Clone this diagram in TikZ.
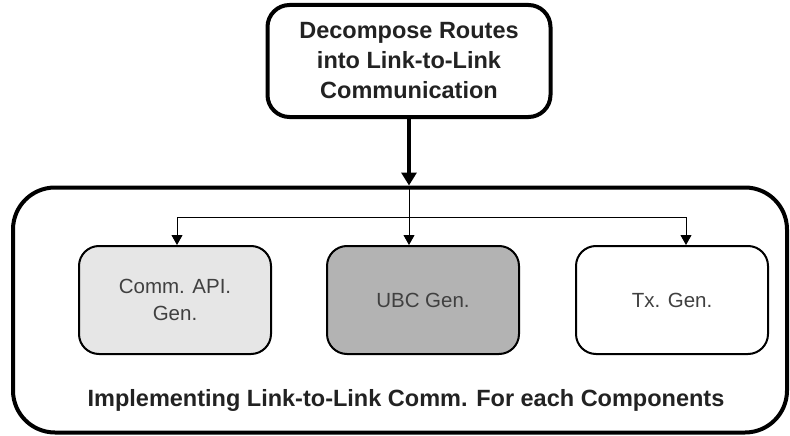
\documentclass[tikz,border=0pt]{standalone}
\usepackage{fontspec}
\setmainfont{Liberation Sans}
\usetikzlibrary{arrows.meta}
\definecolor{lightfill}{HTML}{E6E6E6}
\definecolor{midfill}{HTML}{B3B3B3}
\definecolor{textdark}{HTML}{222222}
\definecolor{textmid}{HTML}{404040}
\tikzset{
  heavybox/.style={draw=black, line width=4pt, rounded corners=#1},
  compbox/.style={draw=black, line width=2pt, rounded corners=20pt,
    minimum width=192pt, minimum height=108pt, text=textmid,
    align=center, font=\fontsize{20.5}{27}\selectfont},
  thinarrow/.style={line width=1pt, -{Triangle[length=10pt,width=11pt]}},
  thickarrow/.style={line width=3.5pt, -{Triangle[length=13pt,width=15pt]}},
}
\begin{document}
\begin{tikzpicture}[x=1pt,y=-1pt]
  \useasboundingbox[fill=white] (0,0) rectangle (790,436);

  % outer container
  \node[heavybox=42pt, minimum width=774pt, minimum height=245pt, inner sep=0pt]
    (outer) at (400,310) {};
  \node[text=textdark, font=\bfseries\fontsize{23.5}{28}\selectfont]
    (caption) at (406,400) {Implementing Link-to-Link Comm. For each Components};

  % top step
  \node[heavybox=22pt, minimum width=283pt, minimum height=112pt, inner sep=0pt,
        align=center, text=textdark, font=\bfseries\fontsize{23.5}{30}\selectfont]
    (top) at (409,61) {Decompose Routes\\into Link-to-Link\\Communication};

  % component boxes
  \node[compbox, fill=lightfill] (comm) at (175,300) {Comm. API.\\Gen.};
  \node[compbox, fill=midfill]   (ubc)  at (423,300) {UBC Gen.};
  \node[compbox, fill=white]     (tx)   at (672,300) {Tx. Gen.};

  % main flow
  \draw[thickarrow] (top.south) -- (top.south |- outer.north);

  % fan-out to the components
  \coordinate (split) at (409,217);
  \draw[line width=1pt] (top.south |- outer.north) -- (split);
  \draw[thinarrow] (split) -- (split |- ubc.north);
  \draw[thinarrow] (split) -| ([xshift=2pt]comm.north);
  \draw[thinarrow] (split) -| ([xshift=14pt]tx.north);
\end{tikzpicture}
\end{document}
